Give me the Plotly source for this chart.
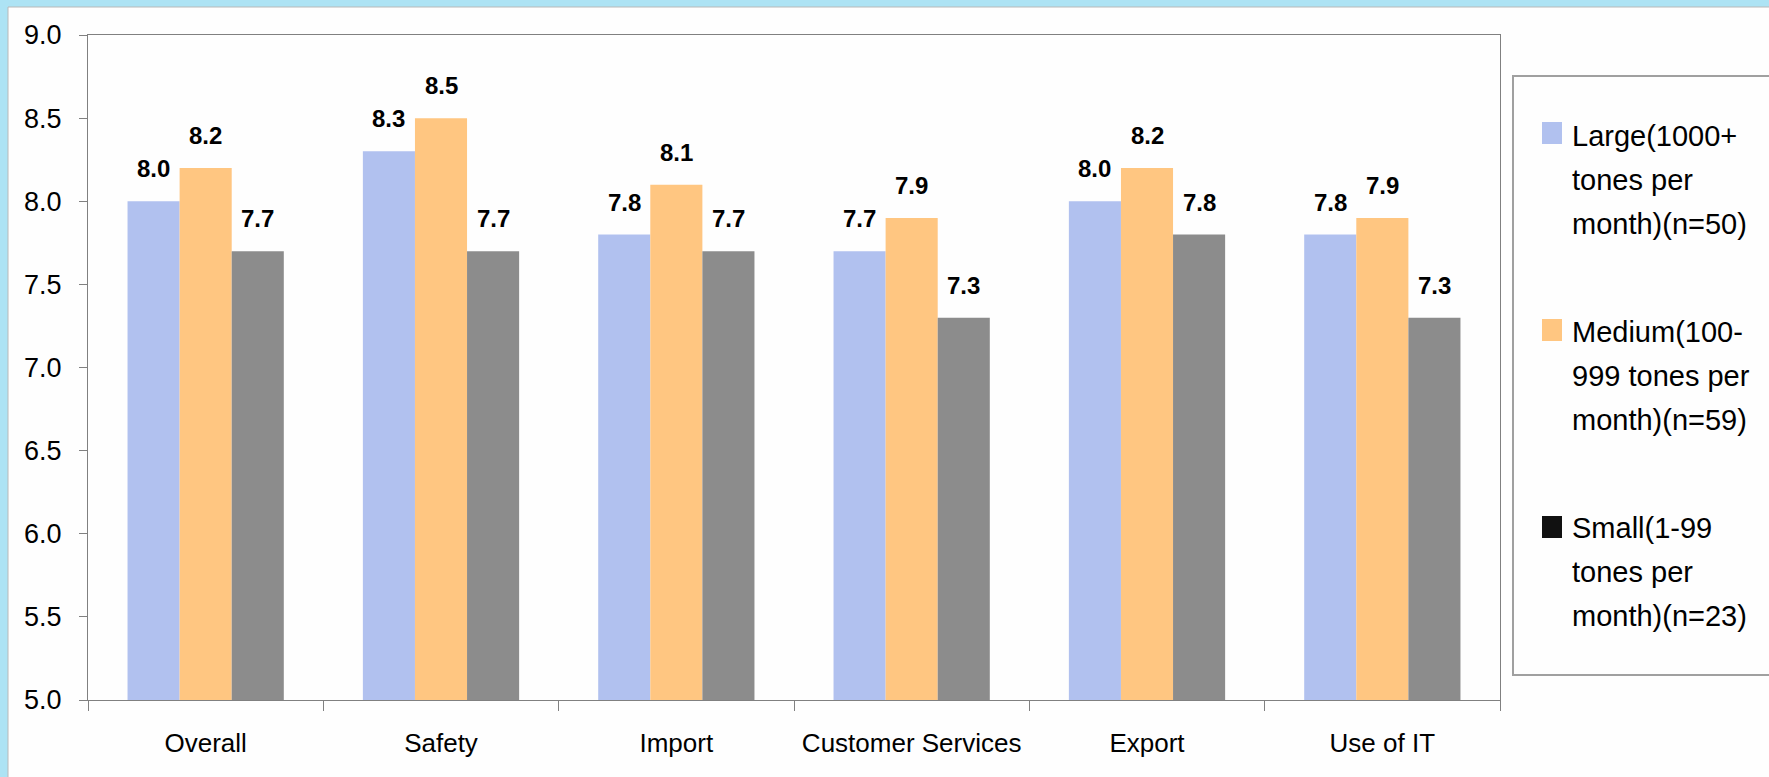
import plotly.graph_objects as go

# ---- data -------------------------------------------------------------
categories = ["Overall", "Safety", "Import", "Customer Services", "Export", "Use of IT"]
large = [8.0, 8.3, 7.8, 7.7, 8.0, 7.8]
medium = [8.2, 8.5, 8.1, 7.9, 8.2, 7.9]
small = [7.7, 7.7, 7.7, 7.3, 7.8, 7.3]

series_names = [
    "Large(1000+<br>tones per<br>month)(n=50)",
    "Medium(100-<br>999 tones per<br>month)(n=59)",
    "Small(1-99<br>tones per<br>month)(n=23)",
]
y_ticks = [5.0, 5.5, 6.0, 6.5, 7.0, 7.5, 8.0, 8.5, 9.0]

# ---- style ------------------------------------------------------------
bar_colors = ["#b1c1ef", "#ffc681", "#8c8c8c"]
swatch_colors = ["#b1c1ef", "#ffc681", "#111111"]
FONT = "Liberation Sans, Arial, sans-serif"

W, H = 1769, 777
L, R, T, B = 88, 1500, 35, 700          # plot area in pixels
PW, PH = R - L, B - T
BARGAP = 0.336


def px(x):
    return (x - L) / PW


def py(y):
    return (B - y) / PH


fig = go.Figure()
for vals, name, col in zip([large, medium, small], series_names, bar_colors):
    fig.add_trace(go.Bar(
        x=categories, y=vals, name=name.replace("<br>", " "),
        marker=dict(color=col, line=dict(width=0)),
        showlegend=False, hoverinfo="x+y",
    ))

# value labels above each bar
bar_px = PW / len(categories) * (1 - BARGAP) / 3
annotations = []
for j, vals in enumerate([large, medium, small]):
    for c, v in zip(categories, vals):
        annotations.append(dict(
            x=c, y=v, xref="x", yref="y", text=f"<b>{v:.1f}</b>",
            showarrow=False, xanchor="center", yanchor="bottom",
            xshift=(j - 1) * bar_px, yshift=17,
            font=dict(family=FONT, size=24, color="#000000"),
        ))

shapes = [
    # white inner panel with thin grey frame
    dict(type="rect", xref="paper", yref="paper", layer="below",
         x0=px(8), x1=px(1790), y0=py(800), y1=py(7),
         fillcolor="#fefefe", line=dict(color="#b8b8b8", width=1)),
    # legend box
    dict(type="rect", xref="paper", yref="paper", layer="above",
         x0=px(1513), x1=px(1790), y0=py(675), y1=py(76),
         fillcolor="rgba(0,0,0,0)", line=dict(color="#a0a0a0", width=2)),
]

# legend entries: swatch plus one text line per row
LEG_FS = 29
LINE_GAP = 44
first_baselines = [146, 342, 538]
swatch_bottoms = [144, 341, 538]
for name, col, base, sb in zip(series_names, swatch_colors, first_baselines, swatch_bottoms):
    shapes.append(dict(type="rect", xref="paper", yref="paper", layer="above",
                       x0=px(1542), x1=px(1562), y0=py(sb), y1=py(sb - 22),
                       fillcolor=col, line=dict(width=0)))
    for k, line in enumerate(name.split("<br>")):
        annotations.append(dict(
            x=px(1570), y=py(base + k * LINE_GAP - 0.35 * LEG_FS),
            xref="paper", yref="paper", text=line,
            showarrow=False, xanchor="left", yanchor="middle", align="left",
            font=dict(family=FONT, size=LEG_FS, color="#000000"),
        ))

fig.update_layout(
    width=W, height=H,
    margin=dict(l=L, r=W - R, t=T, b=H - B, pad=0),
    paper_bgcolor="#ade3f4",
    plot_bgcolor="rgba(0,0,0,0)",
    barmode="group", bargap=BARGAP, bargroupgap=0,
    font=dict(family=FONT, color="#000000"),
    shapes=shapes, annotations=annotations,
    showlegend=False,
    xaxis=dict(
        type="category", tickson="boundaries", ticks="outside", ticklen=10,
        tickcolor="#808080", tickwidth=1, showline=True, linecolor="#808080",
        linewidth=1, mirror=True, showgrid=False, zeroline=False,
        tickfont=dict(family=FONT, size=26, color="#000000"),
        tickangle=0, automargin=False, ticklabelstandoff=20,
    ),
    yaxis=dict(
        range=[5, 9], tickvals=y_ticks, ticktext=[f"{t:.1f}" for t in y_ticks],
        ticks="outside", ticklen=8, tickcolor="#808080", tickwidth=1,
        showline=True, linecolor="#808080", linewidth=1, mirror=True,
        showgrid=False, zeroline=False, automargin=False,
        tickfont=dict(family=FONT, size=27, color="#000000"),
        ticklabelstandoff=12,
    ),
)

fig.write_html("out.html")
